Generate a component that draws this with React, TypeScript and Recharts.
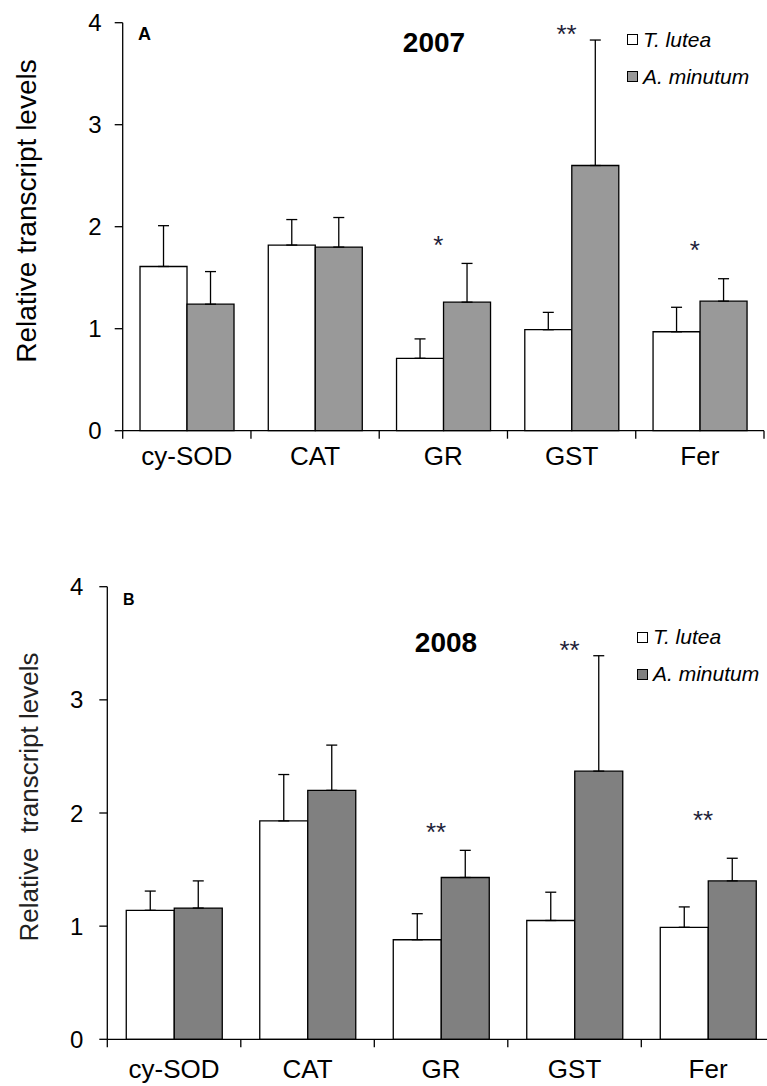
import React from 'react'
import {
  ComposedChart,
  Bar,
  Line,
  XAxis,
  YAxis,
  ErrorBar,
  LabelList,
  Legend,
} from 'recharts'

const FONT = '"Liberation Sans", Arial, sans-serif'

const categories = ['cy-SOD', 'CAT', 'GR', 'GST', 'Fer']
const seriesNames = ['T. lutea', 'A. minutum']
const yTicks = [0, 1, 2, 3, 4]

// 2007 (panel A)
const tLutea2007 = [1.61, 1.82, 0.71, 0.99, 0.97]
const tLuteaErr2007 = [0.4, 0.25, 0.19, 0.17, 0.24]
const aMinutum2007 = [1.24, 1.8, 1.26, 2.6, 1.27]
const aMinutumErr2007 = [0.32, 0.29, 0.38, 1.23, 0.22]
const sig2007 = ['', '', '*', '**', '*']
const sigLevel2007 = [null, null, 1.87, 3.94, 1.83]

// 2008 (panel B)
const tLutea2008 = [1.14, 1.93, 0.88, 1.05, 0.99]
const tLuteaErr2008 = [0.17, 0.41, 0.23, 0.25, 0.18]
const aMinutum2008 = [1.16, 2.2, 1.43, 2.37, 1.4]
const aMinutumErr2008 = [0.24, 0.4, 0.24, 1.02, 0.2]
const sig2008 = ['', '', '**', '**', '**']
const sigLevel2008 = [null, null, 1.88, 3.49, 1.99]

const buildRows = (
  t: number[],
  tErr: number[],
  a: number[],
  aErr: number[],
  sig: string[],
  level: (number | null)[]
) =>
  categories.map((name, i) => ({
    name,
    t: t[i],
    tErr: [0, tErr[i]],
    a: a[i],
    aErr: [0, aErr[i]],
    sig: sig[i],
    star: level[i],
  }))

const rows2007 = buildRows(tLutea2007, tLuteaErr2007, aMinutum2007, aMinutumErr2007, sig2007, sigLevel2007)
const rows2008 = buildRows(tLutea2008, tLuteaErr2008, aMinutum2008, aMinutumErr2008, sig2008, sigLevel2008)

const makeCategoryTick = (band: number, toAxis: number, fontSize: number) => (props: any) => {
  const { x, y, payload, index } = props
  const axisY = y - toAxis
  const half = band / 2
  return (
    <g>
      <line x1={x - half} x2={x - half} y1={axisY} y2={axisY + 8} stroke="#000" strokeWidth={1.3} />
      {index === categories.length - 1 && (
        <line x1={x + half} x2={x + half} y1={axisY} y2={axisY + 8} stroke="#000" strokeWidth={1.3} />
      )}
      <text x={x} y={y} dy="0.71em" textAnchor="middle" fontSize={fontSize} fill="#000" fontFamily={FONT}>
        {payload.value}
      </text>
    </g>
  )
}

const renderStar = (props: any) => {
  const { x, y, value } = props
  if (!value || y == null || isNaN(y)) return null
  return (
    <text x={x - 5} y={y + 14.5} textAnchor="middle" fontSize={26} fill="#1f1f3a" fontFamily={FONT}>
      {value}
    </text>
  )
}

const LegendBox = ({ payload, fontSize }: any) => {
  const items = (payload || [])
    .filter((p: any) => seriesNames.includes(p.value))
    .sort((a: any, b: any) => seriesNames.indexOf(a.value) - seriesNames.indexOf(b.value))
  return (
    <div style={{ fontFamily: FONT }}>
      {items.map((p: any) => (
        <div key={p.value} style={{ display: 'flex', alignItems: 'center', height: 37 }}>
          <div
            style={{
              width: 9,
              height: 9,
              border: '1px solid #000',
              background: p.color,
              marginRight: 5,
              flexShrink: 0,
            }}
          />
          <span style={{ fontStyle: 'italic', fontSize, color: '#000', whiteSpace: 'nowrap' }}>{p.value}</span>
        </div>
      ))}
    </div>
  )
}

interface PanelProps {
  rows: any[]
  top: number
  width: number
  height: number
  margin: { top: number; right: number; bottom: number; left: number }
  yAxisWidth: number
  xAxisHeight: number
  xTickMargin: number
  yTickMargin: number
  band: number
  categoryGap: string
  gray: string
  legendPos: { left: number; top: number }
  letter: string
  letterPos: { x: number; y: number; size: number }
  year: string
  yearPos: { x: number; y: number }
  yLabel: string
  yLabelPos: { x: number; y: number; size: number; color: string }
}

function Panel(p: PanelProps) {
  return (
    <div style={{ position: 'absolute', left: 0, top: p.top, width: p.width, height: p.height }}>
      <ComposedChart
        width={p.width}
        height={p.height}
        data={p.rows}
        margin={p.margin}
        barCategoryGap={p.categoryGap}
        barGap={0}
      >
        <XAxis
          dataKey="name"
          type="category"
          interval={0}
          height={p.xAxisHeight}
          tickSize={8}
          tickMargin={p.xTickMargin}
          tickLine={false}
          axisLine={{ stroke: '#000', strokeWidth: 1.3 }}
          tick={makeCategoryTick(p.band, 8 + p.xTickMargin, 26)}
        />
        <YAxis
          type="number"
          domain={[0, 4]}
          ticks={yTicks}
          width={p.yAxisWidth}
          tickSize={8}
          tickMargin={p.yTickMargin}
          axisLine={{ stroke: '#000', strokeWidth: 1.3 }}
          tickLine={{ stroke: '#000', strokeWidth: 1.3 }}
          tick={{ fontSize: 24, fill: '#000', fontFamily: FONT }}
        />
        <Legend
          layout="horizontal"
          verticalAlign="middle"
          align="center"
          wrapperStyle={{ position: 'absolute', left: p.legendPos.left, top: p.legendPos.top, width: 'auto' }}
          content={(props: any) => <LegendBox payload={props.payload} fontSize={21} />}
        />
        <Bar dataKey="t" name={seriesNames[0]} fill="#ffffff" stroke="#000" strokeWidth={1.3} isAnimationActive={false}>
          <ErrorBar dataKey="tErr" direction="y" width={5.5} stroke="#000" strokeWidth={1.3} />
        </Bar>
        <Bar dataKey="a" name={seriesNames[1]} fill={p.gray} stroke="#000" strokeWidth={1.3} isAnimationActive={false}>
          <ErrorBar dataKey="aErr" direction="y" width={5.5} stroke="#000" strokeWidth={1.3} />
        </Bar>
        <Line
          dataKey="star"
          stroke="none"
          dot={false}
          activeDot={false}
          legendType="none"
          isAnimationActive={false}
        >
          <LabelList dataKey="sig" content={renderStar} />
        </Line>
      </ComposedChart>
      <svg
        width={p.width}
        height={p.height}
        style={{ position: 'absolute', left: 0, top: 0, pointerEvents: 'none' }}
        fontFamily={FONT}
      >
        <text
          transform={`translate(${p.yLabelPos.x},${p.yLabelPos.y}) rotate(-90)`}
          textAnchor="middle"
          fontSize={p.yLabelPos.size}
          fill={p.yLabelPos.color}
          style={{ whiteSpace: 'pre' }}
        >
          {p.yLabel}
        </text>
        <text x={p.letterPos.x} y={p.letterPos.y} fontSize={p.letterPos.size} fontWeight="bold" fill="#000">
          {p.letter}
        </text>
        <text x={p.yearPos.x} y={p.yearPos.y} fontSize={28} fontWeight="bold" textAnchor="middle" fill="#000">
          {p.year}
        </text>
      </svg>
    </div>
  )
}

export default function App() {
  return (
    <div
      style={{
        position: 'absolute',
        left: 0,
        top: 0,
        width: 767,
        height: 1086,
        overflow: 'hidden',
        background: '#fff',
        fontFamily: FONT,
      }}
    >
      <Panel
        rows={rows2007}
        top={0}
        width={767}
        height={480}
        margin={{ top: 22.7, right: 3, bottom: 4.3, left: 0 }}
        yAxisWidth={122.7}
        xAxisHeight={45}
        xTickMargin={8}
        yTickMargin={13}
        band={(764 - 122.7) / 5}
        categoryGap="13.5%"
        gray="#999999"
        legendPos={{ left: 627, top: 21 }}
        letter="A"
        letterPos={{ x: 138, y: 40, size: 18 }}
        year="2007"
        yearPos={{ x: 434, y: 52 }}
        yLabel="Relative transcript levels"
        yLabelPos={{ x: 35.5, y: 211, size: 28, color: '#000' }}
      />
      <Panel
        rows={rows2008}
        top={560}
        width={790}
        height={526}
        margin={{ top: 26.7, right: 15.2, bottom: 4.7, left: 0 }}
        yAxisWidth={107.3}
        xAxisHeight={42}
        xTickMargin={12.7}
        yTickMargin={16}
        band={(774.8 - 107.3) / 5}
        categoryGap="14.2%"
        gray="#808080"
        legendPos={{ left: 637, top: 58.5 }}
        letter="B"
        letterPos={{ x: 123, y: 45, size: 16 }}
        year="2008"
        yearPos={{ x: 446, y: 92 }}
        yLabel="Relative  transcript levels"
        yLabelPos={{ x: 37.5, y: 237, size: 26, color: '#222' }}
      />
    </div>
  )
}
